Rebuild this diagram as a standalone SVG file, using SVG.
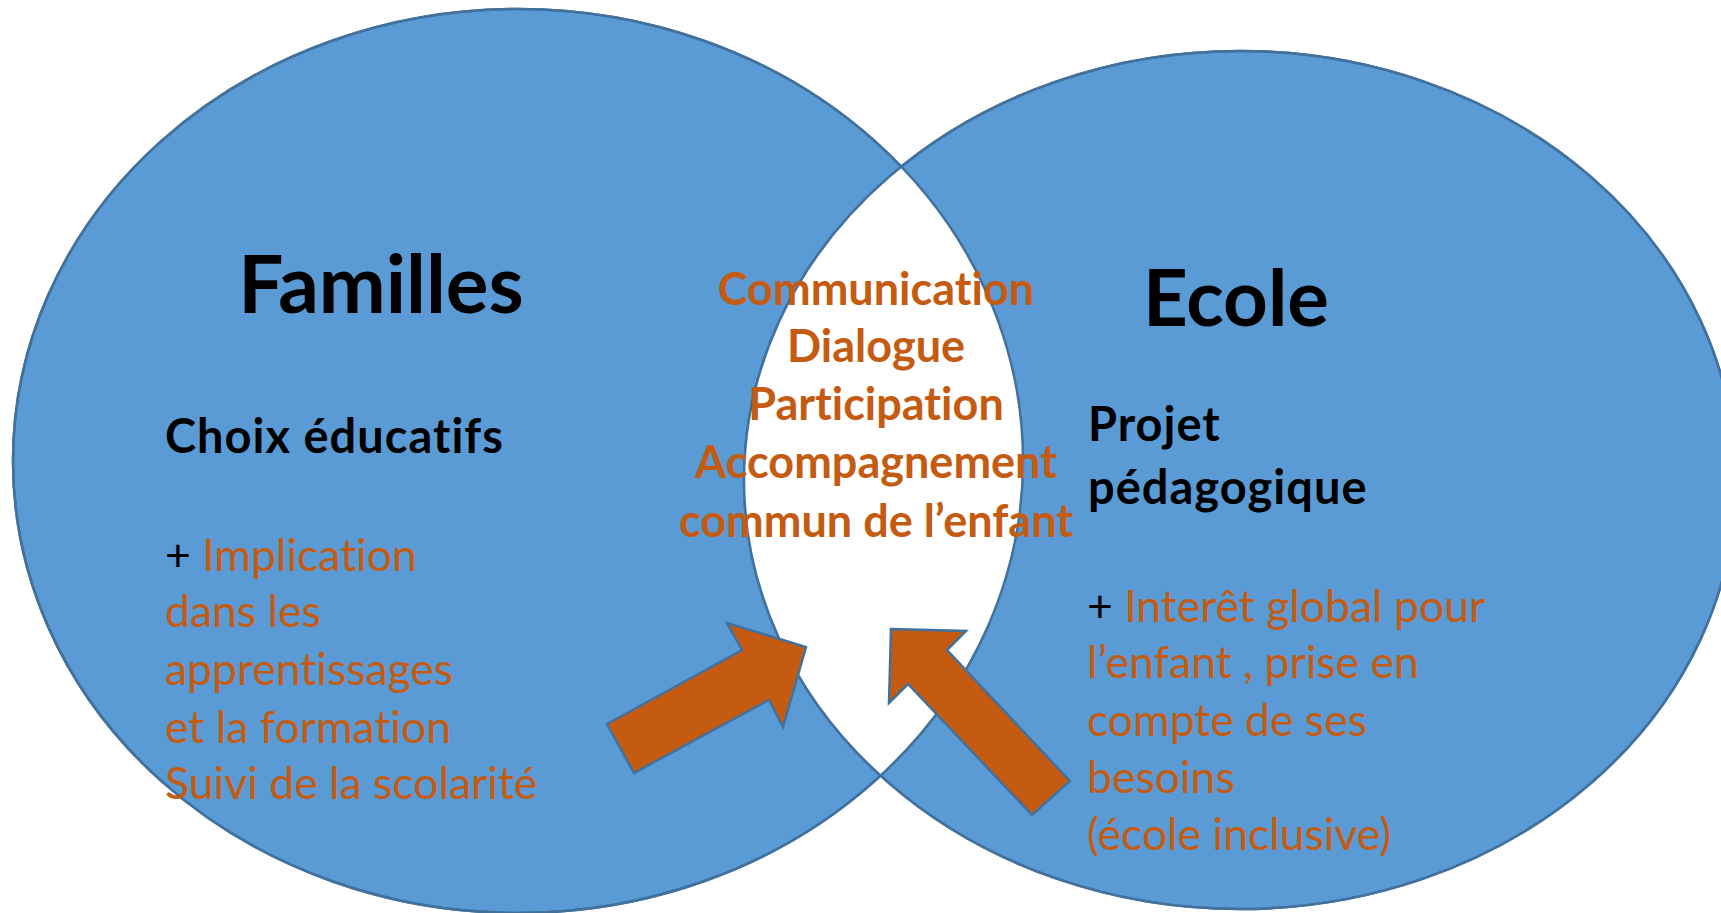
<svg xmlns="http://www.w3.org/2000/svg" width="1721" height="913" viewBox="0 0 1721 913">
<defs>
<style>
text{font-variant-ligatures:none;font-feature-settings:"liga" 0,"dlig" 0}
.set{fill:#5B9BD5;stroke:#41719C;stroke-width:2.5}
.edge{fill:none;stroke:#41719C;stroke-width:2.5}
.title{font-family:Lato,"Liberation Sans",sans-serif;font-weight:700;font-size:80px;fill:#000}
.sub{font-family:Lato,"Liberation Sans",sans-serif;font-weight:700;font-size:47px;letter-spacing:1px;fill:#000}
.mid{font-family:Lato,"Liberation Sans",sans-serif;font-weight:700;font-size:45px;fill:#C55A11;text-anchor:middle}
.body{font-family:Lato,"Liberation Sans",sans-serif;font-weight:400;font-size:44.5px;fill:#C55A11}
.plus{fill:#000}
.arrow{fill:#C55A11;stroke:#41719C;stroke-width:2.5;stroke-linejoin:miter}
</style>
<clipPath id="clipLeft"><ellipse cx="518" cy="461" rx="505" ry="452"/></clipPath>
</defs>
<rect width="1721" height="913" fill="#fff"/>
<g id="familles">
<ellipse class="set" cx="518" cy="461" rx="505" ry="452"/>
</g>
<g id="ecole">
<ellipse class="set" cx="1240" cy="480" rx="496" ry="429"/>
</g>
<g id="intersection">
<ellipse cx="1240" cy="480" rx="496" ry="429" fill="#fff" clip-path="url(#clipLeft)"/>
<ellipse class="edge" cx="518" cy="461" rx="505" ry="452"/>
<ellipse class="edge" cx="1240" cy="480" rx="496" ry="429"/>
</g>
<g id="familles-text">
<text class="title" x="381" y="313" text-anchor="middle">Familles</text>
<text class="sub" x="165" y="453">Choix éducatifs</text>
<text class="body" x="165"><tspan x="165" y="571"><tspan class="plus">+</tspan> Implication</tspan><tspan x="165" y="627">dans les</tspan><tspan x="165" y="685">apprentissages</tspan><tspan x="165" y="743">et la formation</tspan><tspan x="165" y="799">Suivi de la scolarité</tspan></text>
</g>
<g id="ecole-text">
<text class="title" x="1236" y="326" text-anchor="middle" style="font-size:78px">Ecole</text>
<text class="sub" x="1088" y="441">Projet</text>
<text class="sub" x="1088" y="504">pédagogique</text>
<text class="body"><tspan x="1087" y="622"><tspan class="plus">+</tspan> Interêt global pour</tspan><tspan x="1087" y="678">l’enfant , prise en</tspan><tspan x="1087" y="736">compte de ses</tspan><tspan x="1087" y="793">besoins</tspan><tspan x="1087" y="850">(école inclusive)</tspan></text>
</g>
<g id="intersection-text">
<text class="mid" x="876" y="305">Communication</text>
<text class="mid" x="876" y="362">Dialogue</text>
<text class="mid" x="876" y="420">Participation</text>
<text class="mid" x="876" y="478">Accompagnement</text>
<text class="mid" x="876" y="537">commun de l’enfant</text>
</g>
<g id="connectors">
<polygon class="arrow" points="607,724 742,650 727,623 806,647 783,727 769,700 634,773"/>
<polygon class="arrow" points="891,629 966,631 947,650 1070,781 1032,815 908,684 889,703"/>
</g>
</svg>
